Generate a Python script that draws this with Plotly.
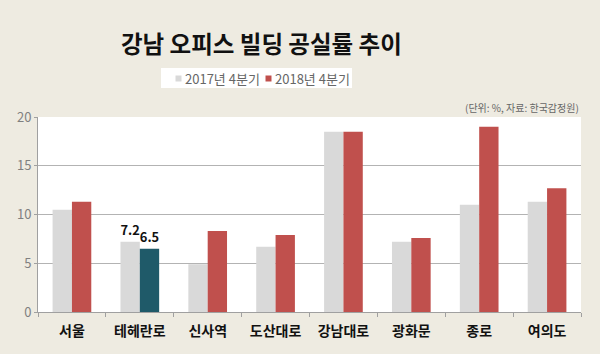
import plotly.graph_objects as go

categories = ["서울", "테헤란로", "신사역", "도산대로", "강남대로", "광화문", "종로", "여의도"]
q4_2017 = [10.5, 7.2, 4.9, 6.7, 18.5, 7.2, 11.0, 11.3]
q4_2018 = [11.3, 6.5, 8.3, 7.9, 18.5, 7.6, 19.0, 12.7]
labels_2017 = ["", "7.2", "", "", "", "", "", ""]
labels_2018 = ["", "6.5", "", "", "", "", "", ""]
series_names = ["2017년 4분기", "2018년 4분기"]
highlight = "테헤란로"

red = "#c0504d"
teal = "#1f5a69"
gray = "#d9d9d9"
colors_2018 = [teal if c == highlight else red for c in categories]

font = "Noto Sans CJK KR"

# pixel -> paper helpers (plot area: x 38..581, y 117..312)
def px(x):
    return (x - 38) / 543
def py(y):
    return (312 - y) / 195

fig = go.Figure()
fig.add_trace(go.Bar(
    x=categories, y=q4_2017, name=series_names[0],
    marker=dict(color=gray, line=dict(width=0)),
    text=[f"<b>{t}</b>" if t else "" for t in labels_2017],
    textposition="outside", cliponaxis=False,
    textfont=dict(family=font, size=16, color="#111"),
))
fig.add_trace(go.Bar(
    x=categories, y=q4_2018, name=series_names[1],
    marker=dict(color=colors_2018, line=dict(width=0)),
    text=[f"<b>{t}</b>" if t else "" for t in labels_2018],
    textposition="outside", cliponaxis=False,
    textfont=dict(family=font, size=16, color="#111"),
))

shapes = [
    dict(type="rect", xref="paper", yref="paper", x0=px(161), x1=px(352), y0=py(88), y1=py(68),
         fillcolor="#ffffff", line=dict(width=0), layer="below"),
    dict(type="rect", xref="paper", yref="paper", x0=px(175.5), x1=px(181.5), y0=py(81.5), y1=py(75.5),
         fillcolor=gray, line=dict(width=0)),
    dict(type="rect", xref="paper", yref="paper", x0=px(265.5), x1=px(271.5), y0=py(81.5), y1=py(75.5),
         fillcolor=red, line=dict(width=0)),
]

fig.update_layout(
    width=600, height=354,
    margin=dict(l=38, r=19, t=117, b=42),
    paper_bgcolor="#eeebe1",
    plot_bgcolor="#ffffff",
    barmode="group", bargap=0.43, bargroupgap=0,
    font=dict(family=font),
    showlegend=False,
    shapes=shapes,
    annotations=[
        dict(text="<b>강남 오피스 빌딩 공실률 추이</b>", xref="paper", yref="paper",
             x=px(261), y=py(43), xanchor="center", yanchor="middle",
             showarrow=False, font=dict(family=font, size=23.5, color="#111")),
        dict(text=series_names[0], xref="paper", yref="paper",
             x=px(183), y=py(78.5), xanchor="left", yanchor="middle",
             showarrow=False, font=dict(family=font, size=13, color="#666")),
        dict(text=series_names[1], xref="paper", yref="paper",
             x=px(273), y=py(78.5), xanchor="left", yanchor="middle",
             showarrow=False, font=dict(family=font, size=13, color="#666")),
        dict(text="(단위: %, 자료: 한국감정원)", xref="paper", yref="paper",
             x=1, y=py(108), xanchor="right", yanchor="middle",
             showarrow=False, font=dict(family=font, size=10, color="#666")),
    ],
)
fig.update_yaxes(
    range=[0, 20], dtick=5, showgrid=True, gridcolor="#b3b3b3", gridwidth=1,
    showline=True, linecolor="#a0a0a0", linewidth=1,
    ticks="outside", ticklen=3, tickcolor="#a0a0a0",
    tickfont=dict(family=font, size=13, color="#808080"),
    zeroline=False, fixedrange=True,
)
fig.update_xaxes(
    showline=True, linecolor="#a0a0a0", linewidth=1,
    ticks="outside", tickson="boundaries", ticklen=4, tickcolor="#a0a0a0",
    tickmode="array", tickvals=categories, ticktext=[f"<b>{c}</b>" for c in categories],
    tickfont=dict(family=font, size=14, color="#111"),
    ticklabelstandoff=6,
)

fig.write_html("out.html")
